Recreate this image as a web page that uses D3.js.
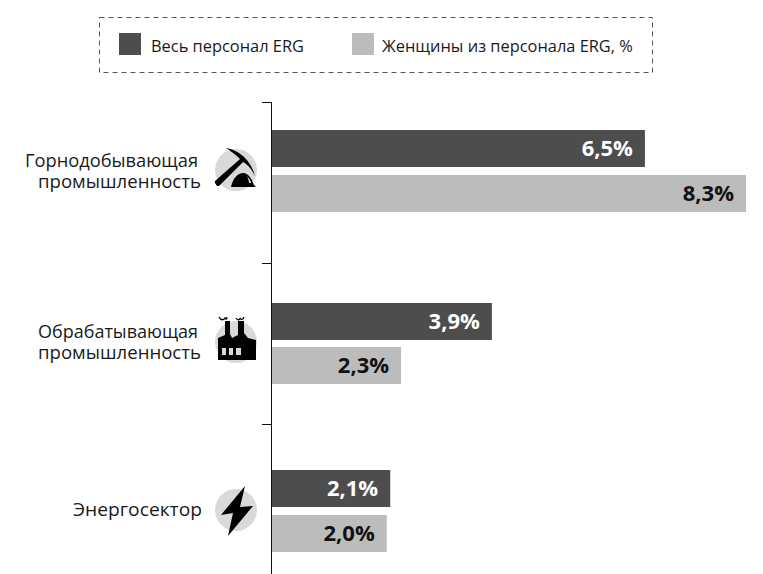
<!DOCTYPE html>
<html><head><meta charset="utf-8">
<script src="https://cdn.jsdelivr.net/npm/d3@7"></script>
<style>html,body{margin:0;padding:0;background:#fff}svg{display:block}text{font-family:"Open Sans","Noto Sans",sans-serif;fill:#1a1a1a}</style>
</head><body><svg id="c" width="763" height="574"></svg>
<script>
const categories = [["Горнодобывающая","промышленность"],["Обрабатывающая","промышленность"],["Энергосектор"]];
const allStaff = [6.53,3.85,2.07];
const women = [8.3,2.26,2.01];
const allStaffLabels = ["6,5%","3,9%","2,1%"];
const womenLabels = ["8,3%","2,3%","2,0%"];
const seriesNames = ["Весь персонал ERG","Женщины из персонала ERG, %"];
const colors = ["#4d4d4d","#bcbcbc"];

const svg = d3.select("#c");
const x = d3.scaleLinear().domain([0,8.3]).range([272,746]);
const bandTop = [102,263,424];
const y0 = d3.scaleOrdinal().domain([0,1,2]).range([130,303,470]);
const y1 = d3.scaleOrdinal().domain([0,1,2]).range([175,347,515]);
const barH = 37;

// legend
svg.append("rect").attr("x",99.5).attr("y",17.5).attr("width",553).attr("height",55)
  .attr("fill","none").attr("stroke","#555").attr("stroke-width",1).attr("stroke-dasharray","5 4");
[[119,151],[352,382]].forEach((p,i)=>{
  svg.append("rect").attr("x",p[0]).attr("y",33).attr("width",22).attr("height",22).attr("fill",colors[i]);
  svg.append("text").attr("x",p[1]).attr("y",52).attr("font-size",16.4).text(seriesNames[i]);
});

// bars
[[allStaff,allStaffLabels,y0,0],[women,womenLabels,y1,1]].forEach(([vals,labs,ys,s])=>{
  svg.append("g").selectAll("rect").data(vals).join("rect")
    .attr("x",x(0)).attr("y",(d,i)=>ys(i)).attr("width",d=>x(d)-x(0)).attr("height",barH).attr("fill",colors[s]);
  svg.append("g").selectAll("text").data(vals).join("text")
    .attr("x",d=>x(d)-12).attr("y",(d,i)=>ys(i)+barH/2+7).attr("text-anchor","end")
    .attr("font-size",22).attr("font-weight",700)
    .style("fill",s===0?"#fff":"#111").text((d,i)=>labs[i]);
});

// axis
const ax = svg.append("g");
ax.append("line").attr("x1",271.5).attr("x2",271.5).attr("y1",102).attr("y2",574).attr("stroke","#111");
ax.selectAll(".t").data(bandTop).join("line").attr("class","t")
  .attr("x1",262).attr("x2",271.5).attr("y1",d=>d+.5).attr("y2",d=>d+.5).attr("stroke","#111");

// category labels
const labelY = [[167,188],[338,359],[516]];
const labelEnd = [[198,201],[198,201],[202]];
const labelLen = [[173,163],[160,163],[129]];
categories.forEach((lines,i)=>lines.forEach((l,j)=>{
  svg.append("text").attr("x",labelEnd[i][j]).attr("y",labelY[i][j]).attr("text-anchor","end")
    .attr("font-size",18.5).attr("textLength",labelLen[i][j]).attr("lengthAdjust","spacingAndGlyphs").text(l);
}));

// icons
const cx = 236;
const iconY = [170,342,510];
iconY.forEach(cy=>svg.append("circle").attr("cx",cx).attr("cy",cy).attr("r",21).attr("fill","#d9d9d9"));
const g1 = svg.append("g").attr("transform",`translate(${cx},${iconY[0]})`);
g1.append("path").attr("fill","#000").attr("d","M-10 -22 C3 -20 15 -10 19 6 C15 -2 11 -6 7 -8 L-17 16 L-19 16 L-21 13 L-21 11 L4 -11 C0 -15 -5 -19 -10 -22 Z");
g1.append("path").attr("fill","#000").attr("d","M-5 17 C-3 8 2 3 7 3 C13 3 16 10 18 15 L20 17 Z");
g1.append("path").attr("fill","#d9d9d9").attr("d","M11 6 C13 8 15 11 15 13 L13 13 C13 11 12 8 11 6 Z");
const g2 = svg.append("g").attr("transform",`translate(${cx},${iconY[1]})`);
g2.append("path").attr("fill","#000").attr("fill-rule","evenodd").attr("d","M-18 -4 L-11 -7 L-11 -21 L-6 -21 L-6 -8 L-4 -4 L2 -7 L2 -21 L8 -21 L8 -9 L12 -4 L20 -2 L20 18 L-18 18 Z M-14 6 H-10 V13 H-14 Z M-7 6 H-3 V13 H-7 Z M0 6 H5 V13 H0 Z");
g2.append("path").attr("fill","none").attr("stroke","#000").attr("stroke-width",1.3).attr("d","M-17 -25 C-15 -21 -12 -22 -11 -24 C-10 -22 -9 -23 -9 -25 M0 -24 C2 -21 4 -22 4 -24 C5 -22 7 -22 8 -25");
const g3 = svg.append("g").attr("transform",`translate(${cx},${iconY[2]})`);
g3.append("path").attr("fill","#000").attr("d","M9 -24 L-15 5 L-3 3 L-8 26 L17 -4 L4 -3 Z");
</script></body></html>
